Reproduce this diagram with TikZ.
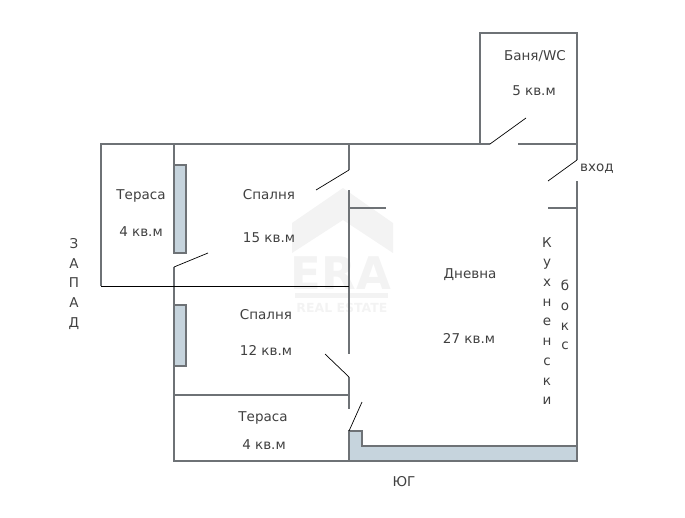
\documentclass[tikz,border=0pt]{standalone}
\usepackage{fontspec}
\setmainfont{DejaVu Sans}
\usetikzlibrary{positioning}
\definecolor{wallgray}{HTML}{6E7276}
\definecolor{wallfill}{HTML}{C6D4DD}
\definecolor{markgray}{HTML}{F3F3F3}
\tikzset{
	wall/.style = {draw = wallgray, line width = 1.1pt},
	door/.style = {draw = black, line width = 0.7pt},
	shelf/.style = {wall, fill = wallfill},
	roomlabel/.style = {text = black!75, font = \fontsize{13.5}{15}\selectfont, inner sep = 0pt},
	stacklabel/.style = {roomlabel, align = center}
}
\begin{document}
\begin{tikzpicture}[x = 1pt, y = -1pt]
	\useasboundingbox (0, 0) rectangle (685, 517);
	\fill[markgray] (343, 188)--(393, 223)--(393, 253)--(343, 220)--(292, 253)--(292, 223)--cycle;
	\node[text = markgray, font = \bfseries\fontsize{45}{45}\selectfont, inner sep = 0pt] (eramark) at (341, 273) {ERA};
	\fill[markgray] (295, 293) rectangle (388, 298);
	\node[text = markgray, font = \bfseries\fontsize{12.5}{12.5}\selectfont, inner sep = 0pt] (eratext) at (342, 308) {REAL ESTATE};
	\draw[shelf] (174, 165) rectangle (186, 253);
	\draw[shelf] (174, 305) rectangle (186, 366);
	\draw[shelf] (349, 431)--(362, 431)--(362, 446)--(577, 446)--(577, 461)--(349, 461)--cycle;
	\draw[wall] (101, 286)--(101, 144)--(490, 144);
	\draw[wall] (480, 144)--(480, 33)--(577, 33)--(577, 160);
	\draw[wall] (518, 144)--(577, 144);
	\draw[wall] (577, 181)--(577, 461)--(174, 461)--(174, 267);
	\draw[wall] (174, 144)--(174, 253);
	\draw[wall] (548, 208)--(577, 208);
	\draw[wall] (349, 144)--(349, 170);
	\draw[wall] (349, 190)--(349, 354);
	\draw[wall] (349, 377)--(349, 409);
	\draw[wall] (349, 208)--(386, 208);
	\draw[wall] (174, 395)--(349, 395);
	\draw[door] (101, 286)--(349, 286);
	\draw[door] (490, 144)--(526, 118);
	\draw[door] (577, 160)--(548, 181);
	\draw[door] (349, 170)--(316, 190);
	\draw[door] (174, 267)--(208, 253);
	\draw[door] (349, 377)--(325, 354);
	\draw[door] (349, 431)--(362, 402);
	\node[roomlabel] (bath) at (535, 56) {Баня/WC};
	\node[roomlabel] (bathsize) at (534, 91) {5 кв.м};
	\node[roomlabel] (entry) at (597, 169) {вход};
	\node[roomlabel] (terraceone) at (141, 196) {Тераса};
	\node[roomlabel] (terraceonesize) at (141, 232) {4 кв.м};
	\node[roomlabel] (bedroomone) at (269, 195) {Спалня};
	\node[roomlabel] (bedroomonesize) at (269, 238) {15 кв.м};
	\node[roomlabel] (bedroomtwo) at (266, 315) {Спалня};
	\node[roomlabel] (bedroomtwosize) at (266, 350) {12 кв.м};
	\node[roomlabel] (terracetwo) at (263, 418) {Тераса};
	\node[roomlabel] (terracetwosize) at (264, 445) {4 кв.м};
	\node[roomlabel] (living) at (470, 275) {Дневна};
	\node[roomlabel] (livingsize) at (469, 338) {27 кв.м};
	\node[roomlabel] (south) at (404, 482) {ЮГ};
	\node[stacklabel, font = \fontsize{13.5}{19.7}\selectfont] (west) at (74, 284) {З\\А\\П\\А\\Д};
	\node[stacklabel, font = \fontsize{13.5}{19.7}\selectfont] (kitchen) at (547, 321) {К\\у\\х\\н\\е\\н\\с\\к\\и};
	\node[stacklabel, font = \fontsize{13.5}{19.7}\selectfont] (box) at (565, 315) {б\\о\\к\\с};
\end{tikzpicture}
\end{document}
